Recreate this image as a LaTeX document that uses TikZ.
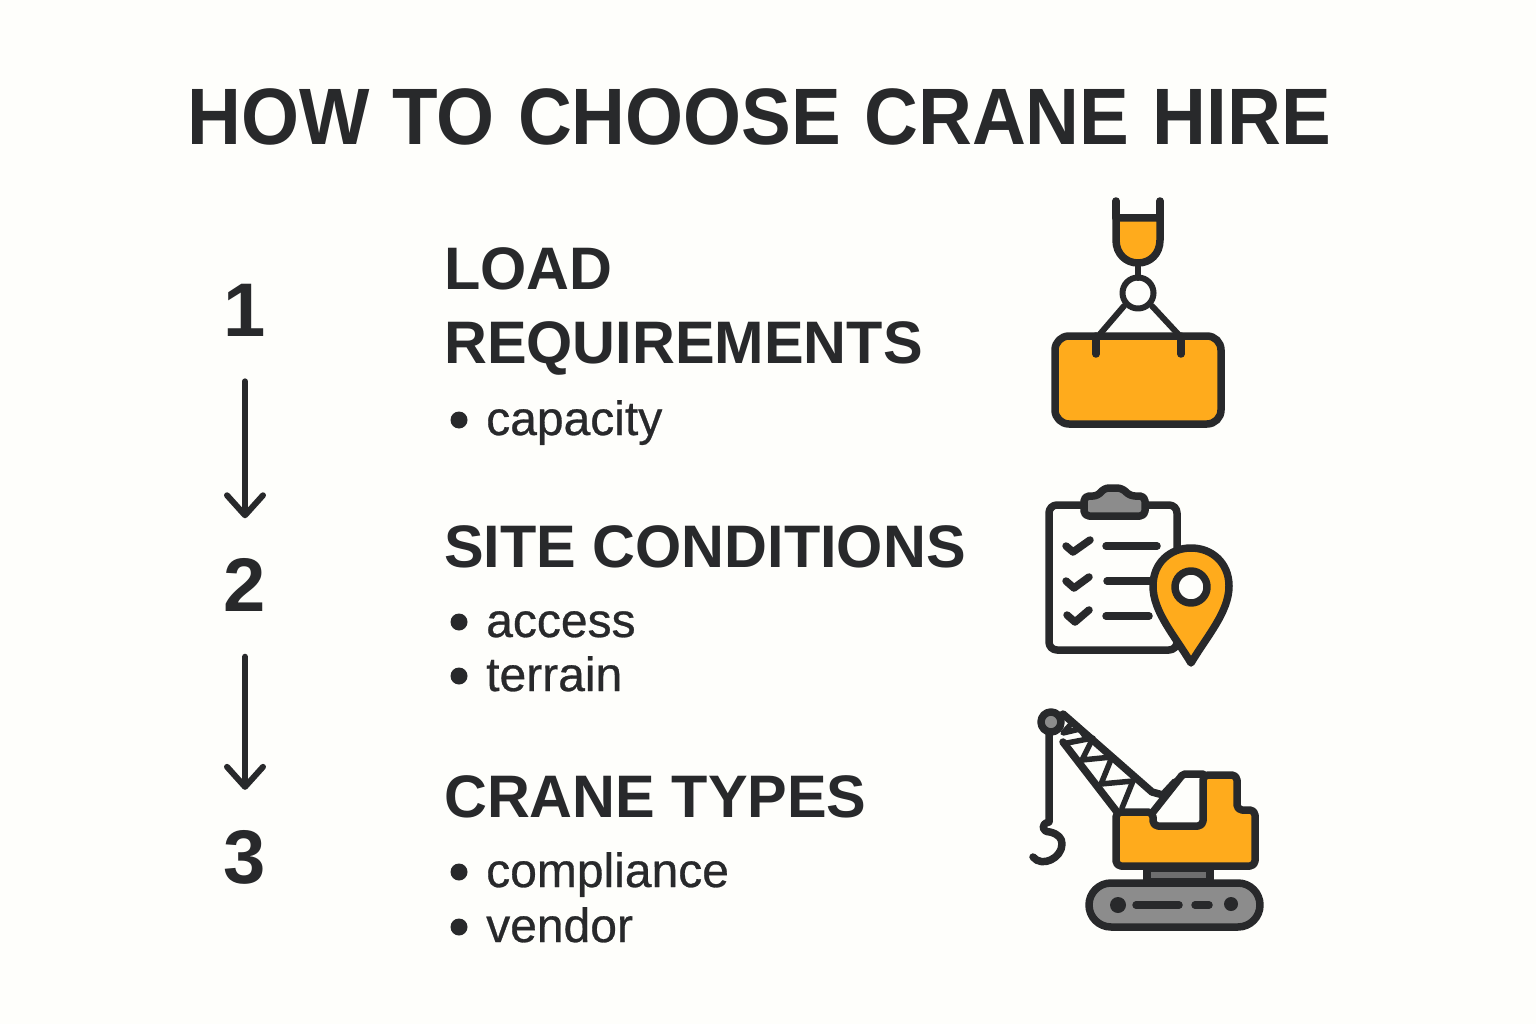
\documentclass[tikz,border=0pt]{standalone}
\usepackage{fontspec}
\usepackage{tikz}
\usetikzlibrary{arrows.meta}
\setmainfont{Liberation Sans}
\newfontfamily\bodyfont[FakeBold=0.6]{Liberation Sans}
\newfontfamily\titlefont[FakeStretch=0.932,WordSpace=1.12]{Liberation Sans}
\newfontfamily\headfont[FakeStretch=0.99]{Liberation Sans}
\definecolor{ink}{HTML}{28292B}
\definecolor{paper}{HTML}{FEFEFB}
\definecolor{amber}{HTML}{FFAB1C}
\definecolor{steel}{HTML}{8C8C8C}
\tikzset{
    headline/.style={anchor=base west, inner sep=0pt, text=ink, font=\fontsize{60}{60}\selectfont\headfont\bfseries},
    itemtext/.style={anchor=base west, inner sep=0pt, text=ink, font=\fontsize{48}{48}\selectfont\bodyfont},
    stepno/.style={inner sep=0pt, text=ink, font=\fontsize{76}{76}\selectfont\bfseries},
    flow/.style={draw=ink, line width=6pt, line cap=round, shorten <=45pt, shorten >=40pt,
        -{Straight Barb[length=20pt,width=36pt,round]}},
    dotmark/.style={circle, fill=ink, inner sep=0pt, minimum size=17pt},
    icon/.style={draw=ink, line width=7.5pt, line join=round, line cap=round},
    strut/.style={draw=ink, line width=5.5pt, line join=round, line cap=round},
}
\begin{document}
\begin{tikzpicture}[x=1pt, y=-1pt, >=latex]
    \useasboundingbox[fill=paper] (0,0) rectangle (1536,1024);

    % Titel
    \node (title) [anchor=base, inner sep=0pt, text=ink, font=\fontsize{80}{80}\selectfont\titlefont\bfseries]
        at (759,145) {HOW TO CHOOSE CRANE HIRE};

    % Schritte
    \node (no1) [stepno] at (245,310) {1};
    \node (no2) [stepno] at (245,585) {2};
    \node (no3) [stepno] at (245,857) {3};
    \draw [flow] (no1) -- (no2);
    \draw [flow] (no2) -- (no3);

    % Texte
    \node (load1) [headline] at (444,290) {LOAD};
    \node (load2) [headline] at (444,363) {REQUIREMENTS};
    \node (capdot) [dotmark] at (459,420) {};
    \node (cap) [itemtext] at (486,435) {capacity};

    \node (site) [headline] at (444,567) {SITE CONDITIONS};
    \node (accdot) [dotmark] at (459,622) {};
    \node (acc) [itemtext] at (486,637) {access};
    \node (terdot) [dotmark] at (459,676) {};
    \node (ter) [itemtext] at (486,691) {terrain};

    \node (types) [headline] at (444,817) {CRANE TYPES};
    \node (compdot) [dotmark] at (459,872) {};
    \node (comp) [itemtext] at (486,887) {compliance};
    \node (vendot) [dotmark] at (459,927) {};
    \node (ven) [itemtext] at (486,942) {vendor};

    % Last
    \draw [icon, fill=amber] (1055,336) [rounded corners=14pt] rectangle (1221,424);
    \draw [icon] (1096,336) -- (1096,354) (1181,336) -- (1181,354);
    \draw [icon, line width=6pt] (1100,334) -- (1124,306) (1178,334) -- (1152,306);
    \draw [icon, line width=6pt, fill=paper] (1138,293) circle (15.5pt);
    \draw [icon, line width=6pt] (1138,263) -- (1138,278);
    \draw [icon, fill=amber] (1116,218) -- (1160,218) -- (1160,240)
        .. controls (1160,254) and (1150,263) .. (1138,263)
        .. controls (1126,263) and (1116,254) .. (1116,240) -- cycle;
    \draw [icon] (1116,201) -- (1116,218) (1160,201) -- (1160,218);

    % Klemmbrett
    \draw [icon, fill=paper] (1049,505) [rounded corners=8pt] rectangle (1177,650);
    \draw [icon, fill=steel, rounded corners=5pt] (1084,496) -- (1098,496) -- (1104,488) -- (1122,488)
        -- (1130,496) -- (1145,496) -- (1145,516) -- (1084,516) -- cycle;
    \draw [icon] (1066,546) -- (1073,552) -- (1090,540)
        (1066,581) -- (1074,588) -- (1089,577)
        (1067,615) -- (1075,622) -- (1089,610);
    \draw [icon] (1106,546) -- (1157,546) (1107,581) -- (1153,581) (1106,616) -- (1149,616);
    \draw [icon, fill=amber] (1191,663)
        .. controls (1175,636) and (1153,612) .. (1153,586)
        .. controls (1153,563) and (1170,548) .. (1191,548)
        .. controls (1212,548) and (1229,563) .. (1229,586)
        .. controls (1229,612) and (1207,636) .. (1191,663) -- cycle;
    \draw [icon, fill=paper] (1191,587) circle (16pt);

    % Kran
    \draw [strut] (1072,723) -- (1063,733) -- (1080,729) -- (1086,738)
        (1067,743) -- (1093,738) -- (1082,760) -- (1112,757) -- (1101,784) -- (1133,781) -- (1122,808);
    \draw [icon] (1063,714) -- (1152,792) -- (1163,795) -- (1175,782)
        (1063,742) -- (1117,812);
    \draw [icon] (1049,733) -- (1049,822)
        .. controls (1040,824) and (1042,832) .. (1050,832)
        .. controls (1058,834) and (1062,838) .. (1062,844)
        .. controls (1062,858) and (1042,868) .. (1033,857);
    \draw [icon, fill=steel] (1051,722) circle (10pt);

    \draw [icon, fill=steel!70!ink] (1147,868) rectangle (1210,882);
    \draw [icon, fill=amber, rounded corners=5pt] (1116,812) -- (1153,812) -- (1153,826) -- (1203,826)
        -- (1203,775) -- (1237,775) -- (1237,810) -- (1255,810) -- (1255,866) -- (1116,866) -- cycle;
    \draw [icon, rounded corners=2pt] (1153,812) -- (1183,774) -- (1203,774);

    \draw [icon, fill=steel, rounded corners=22pt] (1089,883) rectangle (1260,927);
    \fill [ink] (1118,905) circle (8pt) (1231,904) circle (7pt);
    \draw [icon] (1136,905) -- (1179,905) (1195,905) -- (1209,905);
\end{tikzpicture}
\end{document}
